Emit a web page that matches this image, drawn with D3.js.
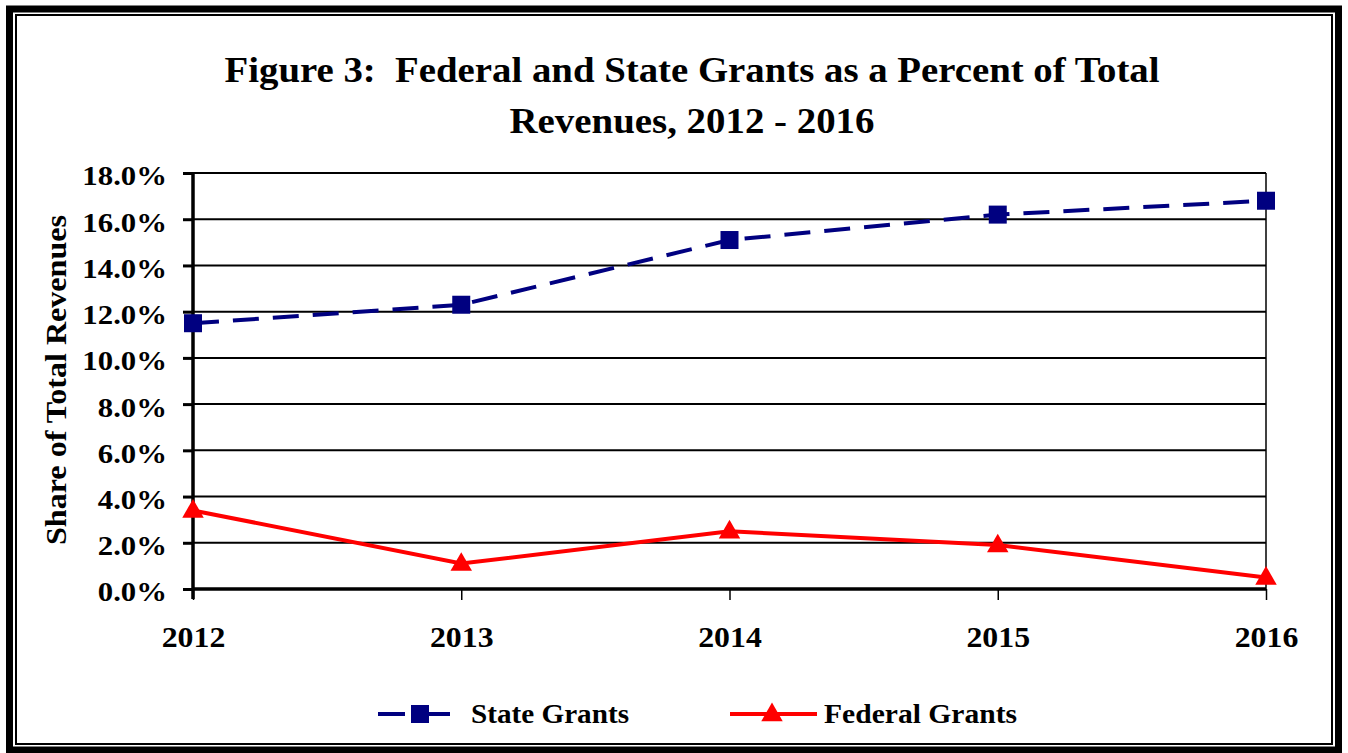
<!DOCTYPE html>
<html>
<head>
<meta charset="utf-8">
<script src="https://cdn.jsdelivr.net/npm/d3@7"></script>
<style>
  body { margin: 0; background: #fff; }
  svg text { font-family: "Liberation Serif", "Times New Roman", serif; font-weight: bold; fill: #000; }
</style>
</head>
<body>
<div id="chart"></div>
<script>
var years = ["2012", "2013", "2014", "2015", "2016"];
var stateGrants = [11.5, 12.3, 15.1, 16.2, 16.8];
var federalGrants = [3.4, 1.1, 2.5, 1.9, 0.5];
var yTicks = [0, 2, 4, 6, 8, 10, 12, 14, 16, 18];

var W = 1348, H = 753;
var margin = {top: 173, right: 82, bottom: 164, left: 193},
    width = W - margin.left - margin.right,
    height = H - margin.top - margin.bottom;

// the source text is a bit wider than plain Times, stretch it
function stretch(sel, k) {
    sel.each(function() {
        var len = this.getComputedTextLength();
        d3.select(this).attr("textLength", len * k).attr("lengthAdjust", "spacingAndGlyphs");
    });
}

var svg = d3.select("#chart")
    .append("svg")
    .attr("width", W)
    .attr("height", H);

// frame: thick outer box and thin inner box
svg.append("rect")
    .attr("x", 9.5).attr("y", 9).attr("width", 1329).attr("height", 741)
    .attr("fill", "none").attr("stroke", "#000").attr("stroke-width", 7);
svg.append("rect")
    .attr("x", 16).attr("y", 15).attr("width", 1316).attr("height", 729)
    .attr("fill", "none").attr("stroke", "#000").attr("stroke-width", 2);

// title
svg.append("text")
    .attr("x", 692).attr("y", 82)
    .attr("text-anchor", "middle")
    .style("font-size", "36px")
    .attr("xml:space", "preserve")
    .attr("textLength", 935).attr("lengthAdjust", "spacingAndGlyphs")
    .text("Figure 3:  Federal and State Grants as a Percent of Total");
svg.append("text")
    .attr("x", 692).attr("y", 133)
    .attr("text-anchor", "middle")
    .style("font-size", "36px")
    .attr("textLength", 365).attr("lengthAdjust", "spacingAndGlyphs")
    .text("Revenues, 2012 - 2016");

var g = svg.append("g")
    .attr("transform", "translate(" + margin.left + "," + margin.top + ")");

var xs = d3.scalePoint()
    .domain(years)
    .range([0, width]);
var ys = d3.scaleLinear()
    .domain([0, 18])
    .range([height, 0]);

// gridlines
g.append("g")
    .selectAll("line")
    .data(yTicks.filter(d => d > 0))
    .join("line")
    .attr("x1", 0).attr("x2", width)
    .attr("y1", d => ys(d)).attr("y2", d => ys(d))
    .attr("stroke", "#000").attr("stroke-width", 2);
// right border of plot area
g.append("line")
    .attr("x1", width).attr("x2", width)
    .attr("y1", 0).attr("y2", height)
    .attr("stroke", "#000").attr("stroke-width", 1.5);

// y axis
var yAxis = g.append("g")
    .call(d3.axisLeft(ys).tickValues(yTicks).tickSize(10).tickPadding(16)
        .tickFormat(d => d.toFixed(1) + "%"));
yAxis.select(".domain").attr("stroke-width", 3.5).attr("d", "M0," + (height + 10) + "V0");
yAxis.selectAll(".tick line").attr("stroke-width", 3);
yAxis.selectAll("text").style("font-size", "27px").attr("dy", "0.44em").call(stretch, 1.14);

// x axis
var xAxis = g.append("g")
    .attr("transform", "translate(0," + height + ")")
    .call(d3.axisBottom(xs).tickSize(11));
xAxis.select(".domain").attr("stroke-width", 3.5).attr("d", "M0,0H" + width);
xAxis.selectAll(".tick line").attr("stroke-width", 1.5);
xAxis.selectAll("text").style("font-size", "30px").attr("y", 58).attr("dy", 0).call(stretch, 1.06);

// y axis title
svg.append("text")
    .attr("transform", "translate(66,380) rotate(-90)")
    .attr("text-anchor", "middle")
    .style("font-size", "29px")
    .attr("textLength", 330).attr("lengthAdjust", "spacingAndGlyphs")
    .text("Share of Total Revenues");

var line = d3.line()
    .x((d, i) => xs(years[i]))
    .y(d => ys(d));

// state grants
g.append("path")
    .datum(stateGrants)
    .attr("d", line)
    .attr("fill", "none")
    .attr("stroke", "#000080")
    .attr("stroke-width", 4)
    .attr("stroke-dasharray", "26,14");
g.append("g")
    .selectAll("rect")
    .data(stateGrants)
    .join("rect")
    .attr("x", (d, i) => xs(years[i]) - 9)
    .attr("y", d => ys(d) - 9)
    .attr("width", 18).attr("height", 18)
    .attr("fill", "#000080");

// federal grants
var tri = d3.symbol().type(d3.symbolTriangle).size(200);
g.append("path")
    .datum(federalGrants)
    .attr("d", line)
    .attr("fill", "none")
    .attr("stroke", "#ff0000")
    .attr("stroke-width", 4);
g.append("g")
    .selectAll("path")
    .data(federalGrants)
    .join("path")
    .attr("d", tri)
    .attr("transform", (d, i) => "translate(" + xs(years[i]) + "," + (ys(d) + 1) + ")")
    .attr("fill", "#ff0000");

// legend
var leg = svg.append("g");
leg.append("line")
    .attr("x1", 378).attr("x2", 405).attr("y1", 714).attr("y2", 714)
    .attr("stroke", "#000080").attr("stroke-width", 4);
leg.append("line")
    .attr("x1", 420).attr("x2", 450).attr("y1", 714).attr("y2", 714)
    .attr("stroke", "#000080").attr("stroke-width", 4);
leg.append("rect")
    .attr("x", 411).attr("y", 705).attr("width", 18).attr("height", 18)
    .attr("fill", "#000080");
leg.append("text")
    .attr("x", 471).attr("y", 723)
    .style("font-size", "28px")
    .attr("textLength", 158).attr("lengthAdjust", "spacingAndGlyphs")
    .text("State Grants");
leg.append("line")
    .attr("x1", 730).attr("x2", 817).attr("y1", 714).attr("y2", 714)
    .attr("stroke", "#ff0000").attr("stroke-width", 4);
leg.append("path")
    .attr("d", tri)
    .attr("transform", "translate(772,715)")
    .attr("fill", "#ff0000");
leg.append("text")
    .attr("x", 824).attr("y", 723)
    .style("font-size", "28px")
    .attr("textLength", 193).attr("lengthAdjust", "spacingAndGlyphs")
    .text("Federal Grants");
</script>
</body>
</html>
